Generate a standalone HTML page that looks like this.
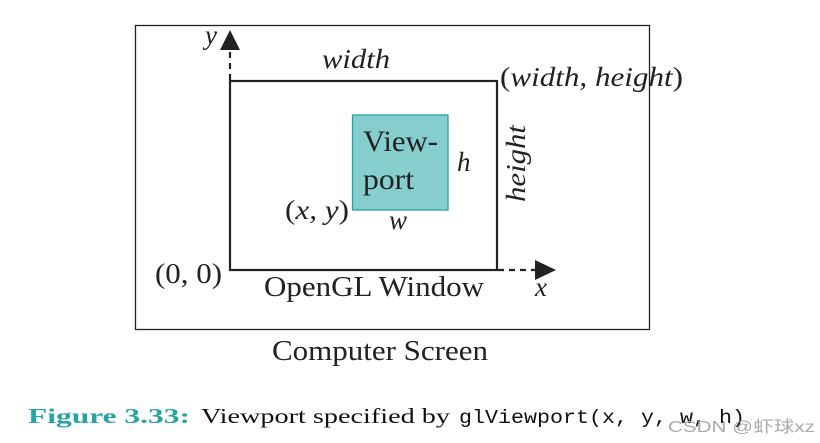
<!DOCTYPE html>
<html><head><meta charset="utf-8"><style>
html,body{margin:0;padding:0;background:#fff;width:820px;height:443px;overflow:hidden}
svg{display:block}
</style></head><body>
<svg width="820" height="443" viewBox="0 0 820 443" xmlns="http://www.w3.org/2000/svg" font-family="Liberation Serif, serif" fill="#222">
<rect x="135.5" y="25.5" width="514" height="304" fill="none" stroke="#222" stroke-width="1.3"/>
<rect x="230" y="81" width="267" height="189" fill="none" stroke="#222" stroke-width="2.2"/>
<rect x="352.5" y="115" width="95.5" height="95" fill="#86cdcd" stroke="#22a5a5" stroke-width="1.3"/>
<line x1="230" y1="80" x2="230" y2="50" stroke="#222" stroke-width="2.2" stroke-dasharray="6,5"/>
<polygon points="230,30 220,50 240,50" fill="#222"/>
<line x1="498" y1="270" x2="536" y2="270" stroke="#222" stroke-width="2.2" stroke-dasharray="6,5"/>
<polygon points="556,270 535,260 535,280" fill="#222"/>
<text x="205" y="44" font-size="27" font-style="italic">y</text>
<text x="322" y="68" font-size="27" font-style="italic" textLength="68" lengthAdjust="spacingAndGlyphs">width</text>
<text x="500" y="86" font-size="27" textLength="183" lengthAdjust="spacingAndGlyphs"><tspan>(</tspan><tspan font-style="italic">width, height</tspan><tspan>)</tspan></text>
<text x="363" y="151" font-size="30" textLength="75" lengthAdjust="spacingAndGlyphs">View-</text>
<text x="363" y="189" font-size="30" textLength="51" lengthAdjust="spacingAndGlyphs">port</text>
<text x="457" y="171" font-size="27" font-style="italic">h</text>
<text transform="translate(525,202) rotate(-90)" font-size="27" font-style="italic" textLength="77" lengthAdjust="spacingAndGlyphs">height</text>
<text x="285" y="219" font-size="27" textLength="64" lengthAdjust="spacingAndGlyphs"><tspan>(</tspan><tspan font-style="italic">x, y</tspan><tspan>)</tspan></text>
<text x="389" y="229" font-size="27" font-style="italic">w</text>
<text x="155" y="283" font-size="28" textLength="67" lengthAdjust="spacingAndGlyphs">(0, 0)</text>
<text x="264" y="296" font-size="28" textLength="220" lengthAdjust="spacingAndGlyphs">OpenGL Window</text>
<text x="535" y="296" font-size="27" font-style="italic">x</text>
<text x="272" y="360" font-size="29" textLength="216" lengthAdjust="spacingAndGlyphs">Computer Screen</text>
<text x="28" y="423" font-size="21" font-weight="bold" fill="#26a3a3" textLength="162" lengthAdjust="spacingAndGlyphs">Figure 3.33:</text>
<text x="201" y="423" font-size="21" fill="#111" textLength="249" lengthAdjust="spacingAndGlyphs">Viewport specified by</text>
<text x="459" y="423" font-size="19" font-family="Liberation Mono, monospace" fill="#111" textLength="286" lengthAdjust="spacingAndGlyphs">glViewport(x, y, w, h)</text>
<text x="668" y="432" font-size="16" fill="#aaa" font-family="Liberation Sans, Noto Sans CJK SC, sans-serif" textLength="147" lengthAdjust="spacingAndGlyphs">CSDN @虾球xz</text>
</svg>
</body></html>
